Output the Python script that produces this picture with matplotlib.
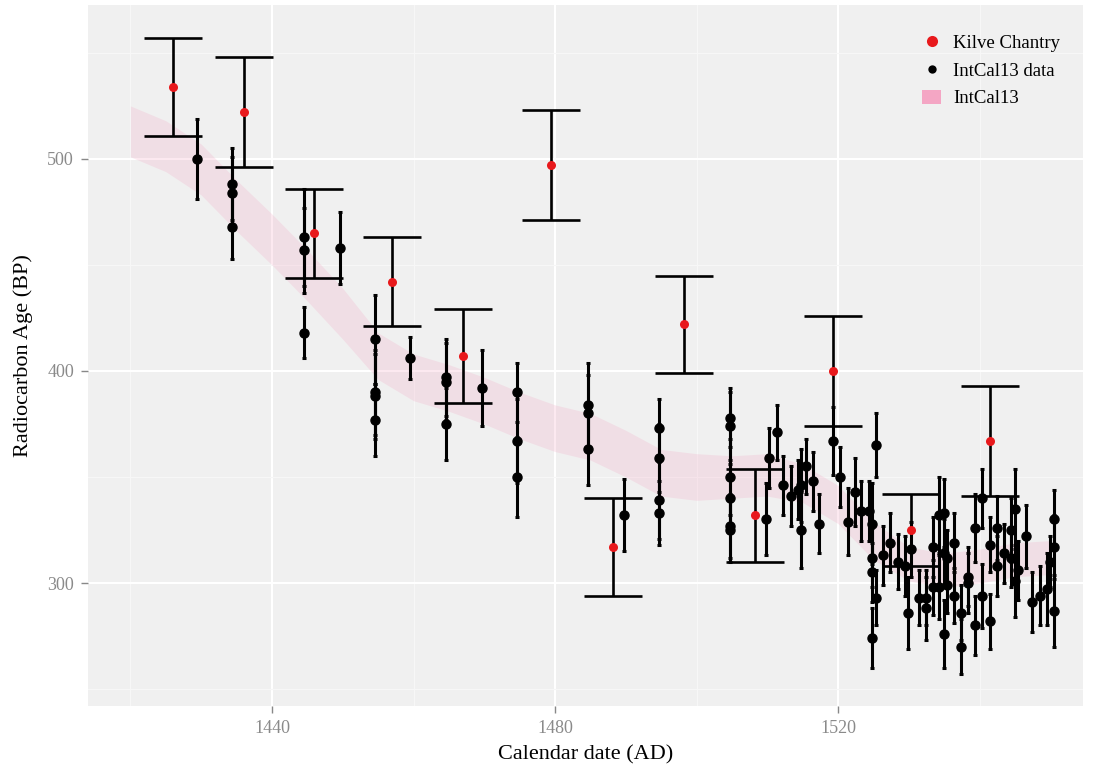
import matplotlib
matplotlib.use('Agg')
import matplotlib.pyplot as plt
from matplotlib.lines import Line2D
from matplotlib.patches import Patch
import numpy as np

# Kilve Chantry samples (calendar year, radiocarbon age, 1 sigma)
kilve_year = [1426, 1436, 1446, 1457, 1467, 1479.4, 1488.2, 1498.2,
              1508.2, 1519.3, 1530.3, 1541.4]
kilve_age = [534, 522, 465, 442, 407, 497, 317, 422, 332, 400, 325, 367]
kilve_err = [23, 26, 21, 21, 22, 26, 23, 23, 22, 26, 17, 26]

# IntCal13 raw measurements
intcal_year = [
    1429.4, 1434.4, 1434.4, 1434.4, 1444.5, 1444.5, 1444.5, 1449.6,
    1454.5, 1454.5, 1454.5, 1454.5, 1459.5, 1464.6, 1464.6, 1464.6,
    1469.7, 1474.6, 1474.6, 1474.6, 1484.6, 1484.6, 1484.6, 1489.7,
    1494.7, 1494.7, 1494.7, 1494.7, 1504.7, 1504.7, 1504.7, 1504.7,
    1504.7, 1504.7, 1509.8, 1510.2, 1511.3, 1512.2, 1513.3, 1514.4,
    1514.7, 1514.7, 1515.4, 1516.4, 1517.3, 1519.3, 1520.3, 1521.4,
    1522.4, 1523.3, 1524.4, 1524.8, 1524.8, 1524.8, 1524.8, 1525.4,
    1525.4, 1526.4, 1527.4, 1528.4, 1529.4, 1529.9, 1530.3, 1531.4,
    1532.4, 1532.4, 1533.4, 1533.4, 1534.3, 1534.3, 1534.9, 1534.9,
    1534.9, 1535.4, 1535.4, 1536.4, 1536.4, 1537.4, 1537.4, 1538.4,
    1538.4, 1539.4, 1539.4, 1540.4, 1540.4, 1541.4, 1541.4, 1542.5,
    1542.5, 1543.5, 1544.5, 1544.5, 1545.0, 1545.0, 1545.4, 1546.5,
    1547.4, 1548.5, 1549.5, 1549.9, 1550.5, 1550.5, 1550.5]
intcal_age = [
    500, 488, 484, 468, 463, 457, 418, 458,
    415, 390, 388, 377, 406, 397, 395, 375,
    392, 390, 367, 350, 384, 380, 363, 332,
    373, 359, 339, 333, 378, 374, 350, 340,
    327, 325, 330, 359, 371, 346, 341, 344,
    346, 325, 355, 348, 328, 367, 350, 329,
    343, 334, 334, 328, 312, 305, 274, 365,
    293, 313, 319, 310, 308, 286, 316, 293,
    293, 288, 317, 298, 332, 298, 333, 314,
    276, 312, 299, 319, 294, 286, 270, 303,
    300, 326, 280, 340, 294, 318, 282, 326,
    308, 314, 325, 312, 335, 301, 306, 322,
    291, 294, 297, 310, 330, 317, 287]
intcal_err = [
    19, 17, 17, 15, 23, 20, 12, 17,
    21, 20, 20, 17, 10, 18, 18, 17,
    18, 14, 20, 19, 20, 18, 17, 17,
    14, 16, 18, 15, 14, 16, 18, 16,
    15, 15, 17, 14, 13, 14, 14, 14,
    17, 18, 13, 14, 14, 16, 14, 16,
    16, 14, 14, 19, 14, 14, 14, 15,
    13, 14, 14, 13, 14, 17, 13, 13,
    13, 15, 14, 13, 18, 15, 16, 16,
    16, 13, 13, 14, 13, 13, 13, 14,
    14, 16, 14, 14, 15, 13, 13, 15,
    14, 14, 15, 14, 19, 17, 14, 15,
    14, 14, 17, 12, 14, 15, 17]

# IntCal13 calibration curve (mean and 1 sigma)
curve_year = [1420, 1425, 1430, 1435, 1440, 1445, 1450, 1455, 1460, 1465,
              1470, 1475, 1480, 1485, 1490, 1495, 1500, 1505, 1510, 1515,
              1520, 1525, 1530, 1535, 1540, 1545, 1550]
curve_age = [513, 506, 495, 478, 462, 445, 427, 407, 397, 392,
             386, 379, 373, 369, 361, 352, 350, 350, 351, 347,
             337, 320, 309, 306, 308, 311, 312]
curve_sigma = [12, 12, 12, 12, 12, 12, 12, 11, 11, 11,
               11, 11, 11, 11, 11, 11, 11, 10, 10, 9,
               9, 9, 8, 8, 8, 8, 8]

PANEL = '#F0F0F0'
RIBBON = '#F4A6C4'
SERIF = ['Liberation Serif', 'DejaVu Serif']


def aff_calibration():
    '''Draws Kilve Chantry dates against the IntCal13 curve'''
    plt.rcParams['font.family'] = SERIF
    fig = plt.figure(figsize=(10.97, 7.69), dpi=100)
    ax = fig.add_axes([0.0802, 0.0819, 0.9070, 0.9116])
    ax.set_facecolor(PANEL)

    # Calibration ribbon
    cy = np.array(curve_age)
    cs = np.array(curve_sigma)
    ax.fill_between(curve_year, cy - cs, cy + cs, color=RIBBON,
                    alpha=0.24, linewidth=0, zorder=1)

    # IntCal13 measurements
    ax.errorbar(intcal_year, intcal_age, yerr=intcal_err, fmt='o',
                color='black', markersize=6.5, elinewidth=2.2,
                capsize=1.6, capthick=2.2, zorder=3)

    # Kilve Chantry samples
    ax.errorbar(kilve_year, kilve_age, yerr=kilve_err, fmt='none',
                ecolor='black', elinewidth=1.9, capsize=21,
                capthick=1.9, zorder=4)
    ax.plot(kilve_year, kilve_age, 'o', color='#E8191C',
            markersize=6.5, markeredgewidth=0, zorder=5)

    # Axes and grid in a ggplot-like style
    ax.set_xlim(1414, 1554.6)
    ax.set_ylim(242, 572.6)
    ax.set_xticks([1440, 1480, 1520])
    ax.set_xticks([1420, 1460, 1500, 1540], minor=True)
    ax.set_yticks([300, 400, 500])
    ax.set_yticks([250, 350, 450, 550], minor=True)
    ax.grid(which='major', color='white', linewidth=1.5, zorder=0)
    ax.grid(which='minor', color='#F7F7F7', linewidth=0.8, zorder=0)
    ax.set_axisbelow(True)
    for side in ax.spines.values():
        side.set_visible(False)
    ax.tick_params(which='major', length=5, width=1, color='#888888',
                   labelcolor='#8A8A8A', labelsize=13, pad=5)
    ax.tick_params(which='minor', length=0)

    # Axis labels
    ax.set_xlabel('Calendar date (AD)', fontsize=16, labelpad=6)
    ax.set_ylabel('Radiocarbon Age (BP)', fontsize=16, labelpad=10)

    # Legend
    handles = [
        Line2D([], [], marker='o', linestyle='none', color='#E8191C',
               markersize=8, markeredgewidth=0),
        Line2D([], [], marker='o', linestyle='none', color='black',
               markersize=6, markeredgewidth=0),
        Patch(facecolor=RIBBON, edgecolor='none'),
    ]
    labels = ['Kilve Chantry', 'IntCal13 data', 'IntCal13']
    ax.legend(handles, labels, loc='upper right', frameon=False,
              fontsize=13.5, handlelength=1.0, handleheight=0.8,
              handletextpad=0.65, labelspacing=0.53,
              bbox_to_anchor=(0.994, 0.982))

    fig.savefig('out.png', dpi=100)


def main():
    '''Main for tests and error handling'''
    aff_calibration()


if __name__ == "__main__":
    main()
